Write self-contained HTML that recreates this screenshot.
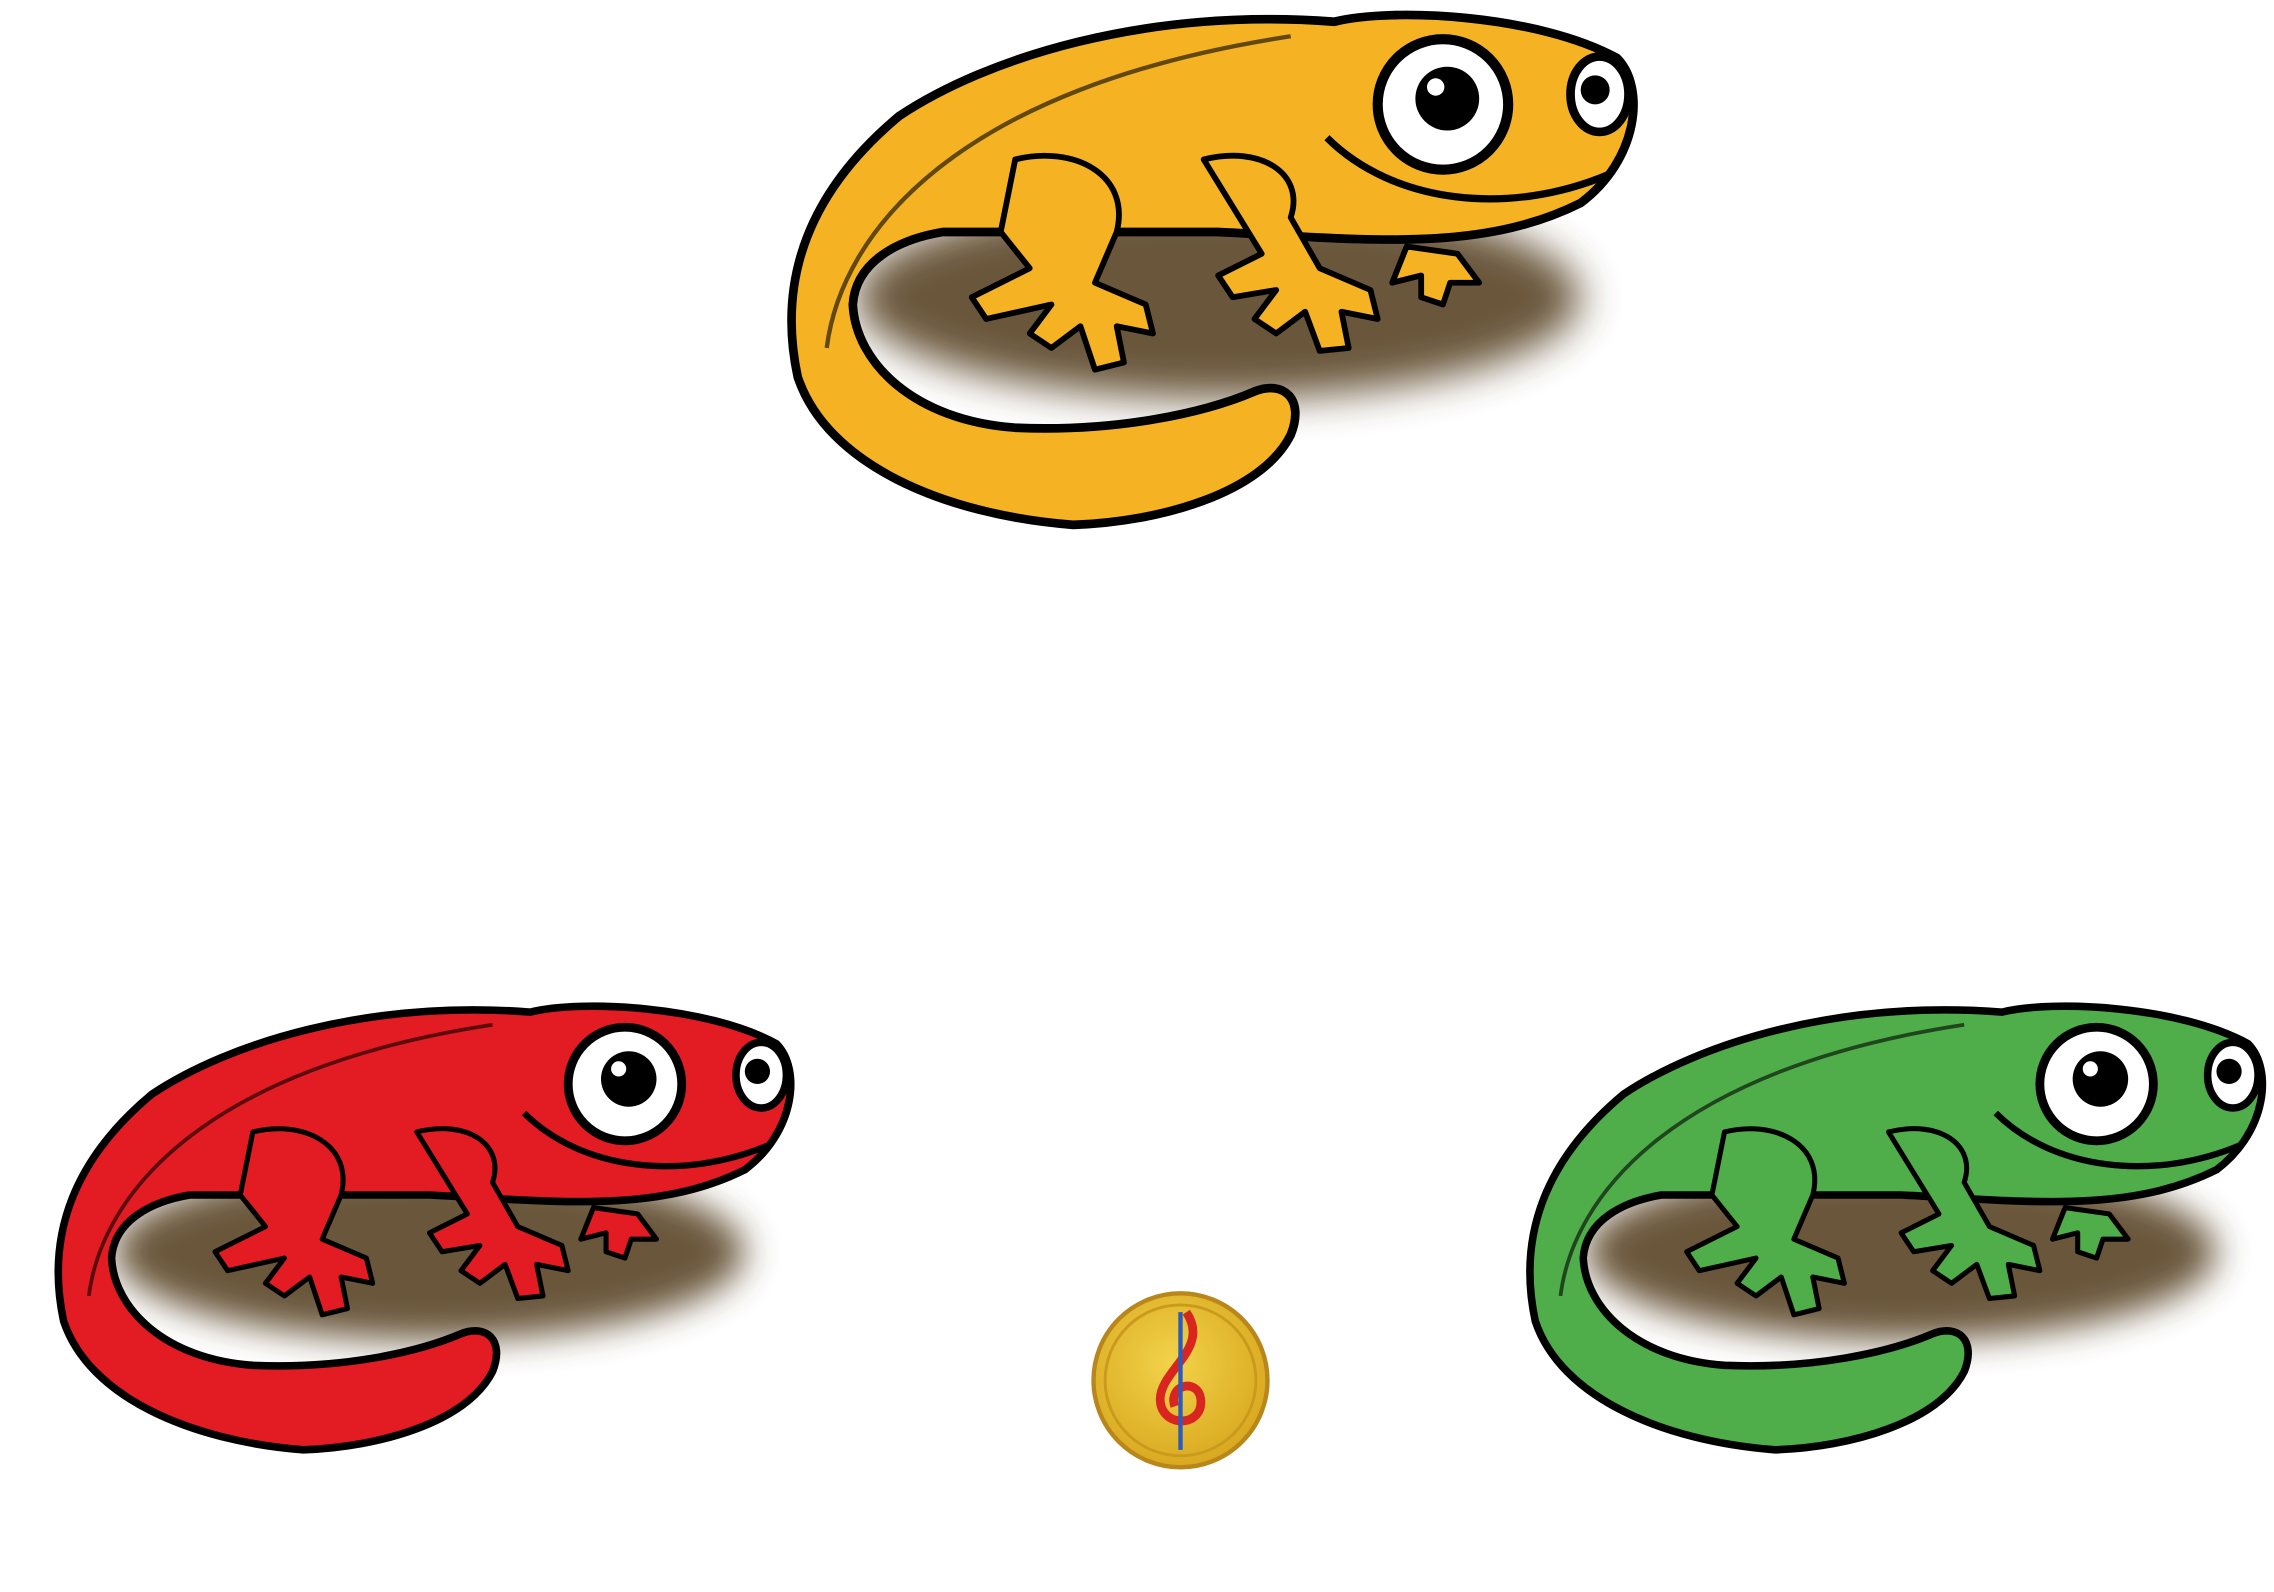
<!DOCTYPE html>
<html><head><meta charset="utf-8"><style>
html,body{margin:0;padding:0;background:#fff;width:2274px;height:1592px;overflow:hidden}
svg{display:block}
</style></head><body>
<svg width="2274" height="1592" viewBox="0 0 1568 1098" xmlns="http://www.w3.org/2000/svg">
<defs>
<filter id="blur" x="-30%" y="-50%" width="160%" height="200%"><feGaussianBlur stdDeviation="14"/></filter>
<radialGradient id="coin" cx="0.45" cy="0.4" r="0.6"><stop offset="0" stop-color="#f2d34a"/><stop offset="1" stop-color="#d9a920"/></radialGradient>
<g id="liz">
  <ellipse cx="300" cy="205" rx="250" ry="70" fill="#5a4526" filter="url(#blur)" opacity="0.9"/>
  <path d="M575,40 C520,10 420,5 380,15 C250,5 140,40 80,80 C20,130 -5,190 10,260 C30,320 110,355 200,362 C260,360 330,340 350,300 C360,275 345,262 325,270 C290,285 230,298 160,295 C90,290 50,250 48,210 C50,180 80,165 110,160 L300,160 C400,165 480,175 550,140 C590,110 595,60 575,40 Z" fill="var(--c)" stroke="#000" stroke-width="6" stroke-linejoin="round"/>
  <path d="M30,240 C40,160 120,60 350,25" fill="none" stroke="#000" stroke-width="3" opacity="0.6"/>
  <!-- back leg -->
  <path d="M160,110 C200,100 240,120 230,160 L215,195 L250,210 L255,230 L230,225 L235,250 L215,255 L205,225 L185,240 L170,230 L185,210 L140,220 L130,205 L170,185 L150,160 Z" fill="var(--c)" stroke="#000" stroke-width="4" stroke-linejoin="round"/>
  <!-- front leg -->
  <path d="M290,110 C330,100 360,120 350,150 L370,185 L405,200 L410,220 L385,215 L390,240 L370,242 L360,215 L340,230 L325,220 L340,200 L310,205 L300,190 L330,175 Z" fill="var(--c)" stroke="#000" stroke-width="4" stroke-linejoin="round"/>
  <path d="M430,170 L465,175 L480,195 L460,195 L455,210 L440,205 L440,190 L420,195 Z" fill="var(--c)" stroke="#000" stroke-width="4" stroke-linejoin="round"/>
  <!-- mouth -->
  <path d="M375,95 C420,140 500,150 570,120" fill="none" stroke="#000" stroke-width="5"/>
  <!-- eyes -->
  <circle cx="455" cy="72" r="45" fill="#fff" stroke="#000" stroke-width="7"/>
  <circle cx="458" cy="68" r="22" fill="#000"/>
  <circle cx="450" cy="60" r="6" fill="#fff"/>
  <ellipse cx="563" cy="65" rx="20" ry="26" fill="#fff" stroke="#000" stroke-width="6"/>
  <circle cx="560" cy="62" r="10" fill="#000"/>
</g>
</defs>
<use href="#liz" x="540" y="0" style="--c:#f5b324"/>
<g transform="translate(35,685) scale(0.87)"><use href="#liz" style="--c:#e31b23"/></g>
<g transform="translate(1050,685) scale(0.87)"><use href="#liz" style="--c:#4fae4a"/></g>
<circle cx="814" cy="952" r="60" fill="url(#coin)" stroke="#b8861a" stroke-width="3"/>
<circle cx="814" cy="952" r="52" fill="none" stroke="#c99a1d" stroke-width="2"/>
<path d="M818,905 C835,930 800,945 800,965 C800,985 830,985 828,965 C826,950 805,955 810,970" fill="none" stroke="#d9251f" stroke-width="6"/>
<line x1="814" y1="905" x2="814" y2="1000" stroke="#2a5cc0" stroke-width="3"/>
</svg>
</body></html>
